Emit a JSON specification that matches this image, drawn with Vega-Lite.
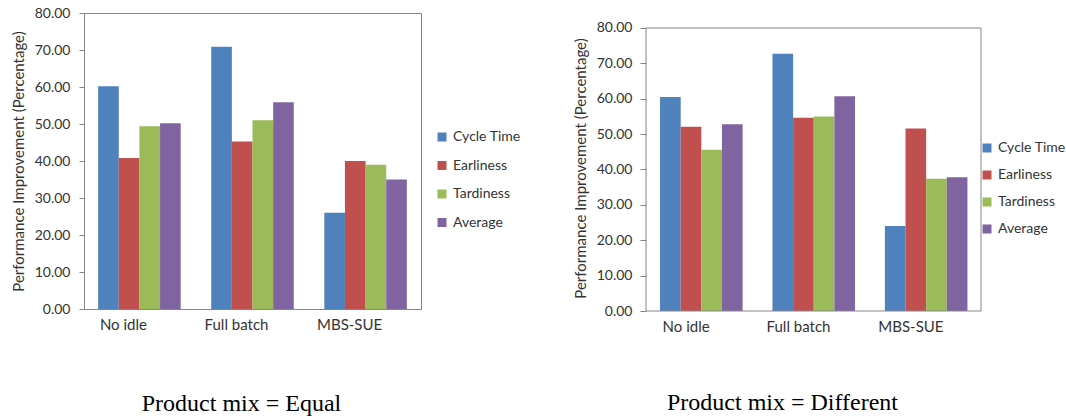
{
  "$schema": "https://vega.github.io/schema/vega-lite/v6.json",
  "padding": {"left": 10, "top": 5, "right": 0, "bottom": 0},
  "background": "white",
  "datasets": {
    "equal": [
      {"method": "No idle", "measure": "Cycle Time", "value": 60.2},
      {"method": "No idle", "measure": "Earliness", "value": 40.8},
      {"method": "No idle", "measure": "Tardiness", "value": 49.4},
      {"method": "No idle", "measure": "Average", "value": 50.2},
      {"method": "Full batch", "measure": "Cycle Time", "value": 70.9},
      {"method": "Full batch", "measure": "Earliness", "value": 45.3},
      {"method": "Full batch", "measure": "Tardiness", "value": 51.0},
      {"method": "Full batch", "measure": "Average", "value": 55.9},
      {"method": "MBS-SUE", "measure": "Cycle Time", "value": 26.0},
      {"method": "MBS-SUE", "measure": "Earliness", "value": 40.0},
      {"method": "MBS-SUE", "measure": "Tardiness", "value": 39.0},
      {"method": "MBS-SUE", "measure": "Average", "value": 35.0}
    ],
    "different": [
      {"method": "No idle", "measure": "Cycle Time", "value": 60.5},
      {"method": "No idle", "measure": "Earliness", "value": 52.1},
      {"method": "No idle", "measure": "Tardiness", "value": 45.6},
      {"method": "No idle", "measure": "Average", "value": 52.8},
      {"method": "Full batch", "measure": "Cycle Time", "value": 72.7},
      {"method": "Full batch", "measure": "Earliness", "value": 54.6},
      {"method": "Full batch", "measure": "Tardiness", "value": 55.0},
      {"method": "Full batch", "measure": "Average", "value": 60.7},
      {"method": "MBS-SUE", "measure": "Cycle Time", "value": 24.0},
      {"method": "MBS-SUE", "measure": "Earliness", "value": 51.6},
      {"method": "MBS-SUE", "measure": "Tardiness", "value": 37.4},
      {"method": "MBS-SUE", "measure": "Average", "value": 37.8}
    ],
    "frame": [{"bottom": 0, "top": 80}]
  },
  "config": {
    "view": {"stroke": "#868686", "strokeWidth": 1},
    "axis": {
      "grid": false,
      "domainColor": "#868686",
      "tickColor": "#868686",
      "labelFont": "Lato",
      "labelFontSize": 14,
      "labelColor": "#333333",
      "labelOverlap": false,
      "titleFont": "Lato",
      "titleFontWeight": "normal",
      "titleFontSize": 15,
      "titleColor": "#333333"
    },
    "legend": {
      "labelFont": "Lato",
      "labelFontSize": 14,
      "labelColor": "#333333",
      "symbolType": "square",
      "symbolSize": 81,
      "symbolStrokeWidth": 0,
      "labelOffset": 4,
      "padding": 0
    }
  },
  "resolve": {"legend": {"color": "independent"}},
  "spacing": 51,
  "hconcat": [
    {
      "data": {"name": "equal"},
      "width": 337,
      "height": 296,
      "mark": {"type": "bar"},
      "encoding": {
        "x": {
          "field": "method", "type": "nominal",
          "sort": ["No idle", "Full batch", "MBS-SUE"],
          "scale": {"paddingInner": 0.27, "paddingOuter": 0.125},
          "axis": {
            "title": "Product mix = Equal", "labelAngle": 0, "ticks": false, "labelPadding": 8,
            "labelFontSize": 15, "labelOffset": -16,
            "titleFont": "Liberation Serif", "titleFontSize": 24, "titleColor": "#000000",
            "titlePadding": 59, "titleX": 157
          }
        },
        "xOffset": {
          "field": "measure", "type": "nominal",
          "sort": ["Cycle Time", "Earliness", "Tardiness", "Average"],
          "scale": {"paddingInner": 0, "paddingOuter": 0}
        },
        "y": {
          "field": "value", "type": "quantitative",
          "scale": {"domain": [0, 80]},
          "axis": {
            "title": "Performance Improvement (Percentage)", "format": ".2f",
            "values": [0, 10, 20, 30, 40, 50, 60, 70, 80], "tickSize": 5, "labelPadding": 9, "titlePadding": 8
          }
        },
        "color": {
          "field": "measure", "type": "nominal",
          "sort": ["Cycle Time", "Earliness", "Tardiness", "Average"],
          "scale": {"domain": ["Cycle Time", "Earliness", "Tardiness", "Average"], "range": ["#4F81BD", "#C0504D", "#9BBB59", "#8064A2"]},
          "legend": {"title": null, "orient": "none", "legendX": 351, "legendY": 117, "rowPadding": 14.5}
        }
      }
    },
    {
      "width": 335,
      "height": 298,
      "view": {"stroke": null},
      "layer": [
        {
          "data": {"name": "different"},
          "mark": {"type": "bar"},
          "encoding": {
            "x": {
              "field": "method", "type": "nominal",
              "sort": ["No idle", "Full batch", "MBS-SUE"],
              "scale": {"paddingInner": 0.27, "paddingOuter": 0.125},
              "axis": {
                "title": "Product mix = Different", "labelAngle": 0, "ticks": false, "domain": false, "labelPadding": 8,
                "labelFontSize": 15, "labelOffset": -15,
                "titleFont": "Liberation Serif", "titleFontSize": 24, "titleColor": "#000000",
                "titlePadding": 56, "titleX": 136
              }
            },
            "xOffset": {
              "field": "measure", "type": "nominal",
              "sort": ["Cycle Time", "Earliness", "Tardiness", "Average"],
              "scale": {"paddingInner": 0, "paddingOuter": 0}
            },
            "y": {
              "field": "value", "type": "quantitative",
              "scale": {"domain": [0, 84.24], "nice": false},
              "axis": {
                "title": "Performance Improvement (Percentage)", "format": ".2f", "domain": false,
                "values": [0, 10, 20, 30, 40, 50, 60, 70, 80], "tickSize": 6, "labelPadding": 8, "titlePadding": 8,
                "labelOverlap": false, "titleY": 155
              }
            },
            "color": {
              "field": "measure", "type": "nominal",
              "sort": ["Cycle Time", "Earliness", "Tardiness", "Average"],
              "scale": {"domain": ["Cycle Time", "Earliness", "Tardiness", "Average"], "range": ["#4F81BD", "#C0504D", "#9BBB59", "#8064A2"]},
              "legend": {"title": null, "orient": "none", "legendX": 334, "legendY": 128, "rowPadding": 13}
            }
          }
        },
        {
          "data": {"name": "frame"},
          "mark": {"type": "rect", "fill": "transparent", "stroke": "#868686", "strokeWidth": 1},
          "encoding": {
            "y": {
              "field": "bottom", "type": "quantitative",
              "scale": {"domain": [0, 84.24], "nice": false},
              "axis": {
                "title": "Performance Improvement (Percentage)", "format": ".2f", "domain": false,
                "values": [0, 10, 20, 30, 40, 50, 60, 70, 80], "tickSize": 6, "labelPadding": 8, "titlePadding": 8,
                "labelOverlap": false, "titleY": 155
              }
            },
            "y2": {"field": "top"}
          }
        }
      ]
    }
  ]
}
